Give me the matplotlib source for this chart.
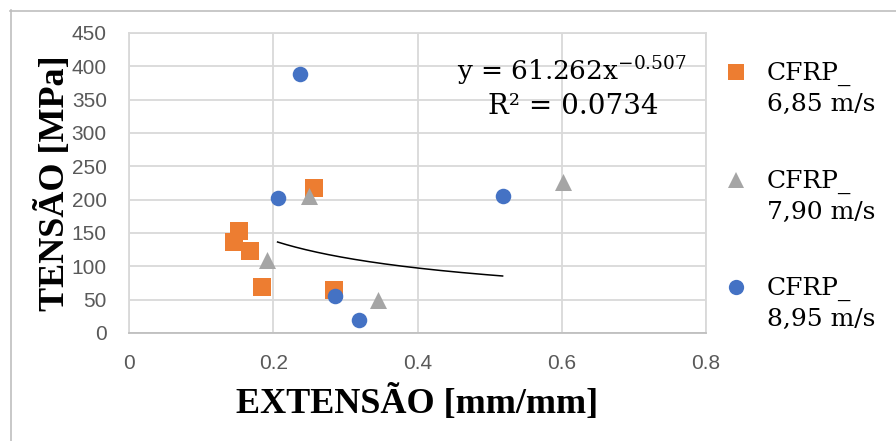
import numpy as np
import matplotlib
matplotlib.use("Agg")
import matplotlib.pyplot as plt
from matplotlib.lines import Line2D

# Data
s1_x = [0.153, 0.146, 0.168, 0.184, 0.257, 0.284]
s1_y = [153, 136, 123, 69, 217, 65]
s2_x = [0.249, 0.191, 0.345, 0.602]
s2_y = [206, 110, 50, 226]
s3_x = [0.237, 0.206, 0.518, 0.285, 0.319]
s3_y = [389, 202, 205, 55, 20]
labels = ["CFRP_\n6,85 m/s", "CFRP_\n7,90 m/s", "CFRP_\n8,95 m/s"]
trend_a, trend_b = 61.262, -0.507
x_ticks = [0, 0.2, 0.4, 0.6, 0.8]
y_ticks = list(range(0, 451, 50))

W, H = 896, 441
fig = plt.figure(figsize=(W / 100, H / 100), dpi=100)
ax = fig.add_axes([129 / W, 1 - 333 / H, (706 - 129) / W, (333 - 33) / H])

serif = ["Liberation Serif", "DejaVu Serif"]
wserif = ["DejaVu Serif"]
sans = ["Liberation Sans", "DejaVu Sans"]

colors = ["#ED7D31", "#A5A5A5", "#4472C4"]
markers = ["s", "^", "o"]
sizes = [150, 150, 125]
for xs, ys, c, m, sz in zip([s1_x, s2_x, s3_x], [s1_y, s2_y, s3_y], colors, markers, sizes):
    ax.scatter(xs, ys, marker=m, s=sz, color=c, zorder=3, linewidths=0)

tx = np.linspace(min(s3_x), max(s3_x), 200)
ax.plot(tx, trend_a * tx ** trend_b, color="black", lw=1.1, zorder=2)

ax.set_xlim(0, 0.8)
ax.set_ylim(0, 450)
ax.set_xticks(x_ticks)
ax.set_xticklabels([f"{v:g}" for v in x_ticks])
ax.set_yticks(y_ticks)
ax.grid(True, color="#D9D9D9", lw=1.3)
ax.set_axisbelow(True)
for sp in ax.spines.values():
    sp.set_color("#D9D9D9")
    sp.set_linewidth(1.3)
ax.spines["bottom"].set_color("#BFBFBF")
ax.tick_params(length=0, labelsize=15, labelcolor="#595959")
ax.tick_params(axis="y", pad=16)
ax.tick_params(axis="x", pad=15)
for t in ax.get_xticklabels() + ax.get_yticklabels():
    t.set_fontfamily(sans)

ax.set_xlabel("EXTENSÃO [mm/mm]", fontsize=26, fontweight="bold", family=serif, labelpad=9)
ax.set_ylabel("TENSÃO [MPa]", fontsize=26, fontweight="bold", family=serif, labelpad=0)

fig.text(572 / W, 1 - 71 / H, r"y = 61.262x$^{\mathregular{-0.507}}$", ha="center", va="center",
         fontsize=19, family=wserif)
fig.text(573 / W, 1 - 106 / H, "R² = 0.0734", ha="center", va="center", fontsize=20, family=wserif)

# legend (manual, Excel-like: marker aligned with first text line)
leg_y = [72, 180, 287]
for c, m, lab, yy in zip(colors, markers, labels, leg_y):
    fig.add_artist(Line2D([736 / W], [1 - yy / H], marker=m, ls="", color=c, markersize=11,
                          markeredgewidth=0))
    fig.text(767 / W, 1 - (yy - 10) / H, lab, ha="left", va="top", fontsize=18, family=wserif,
             linespacing=1.38)

# chart border
fig.add_artist(Line2D([10 / W, 1], [1 - 10.5 / H] * 2, color="#BFBFBF", lw=1.2))
fig.add_artist(Line2D([10.5 / W] * 2, [0, 1 - 10 / H], color="#BFBFBF", lw=1.2))

fig.savefig("out.png", dpi=100)
